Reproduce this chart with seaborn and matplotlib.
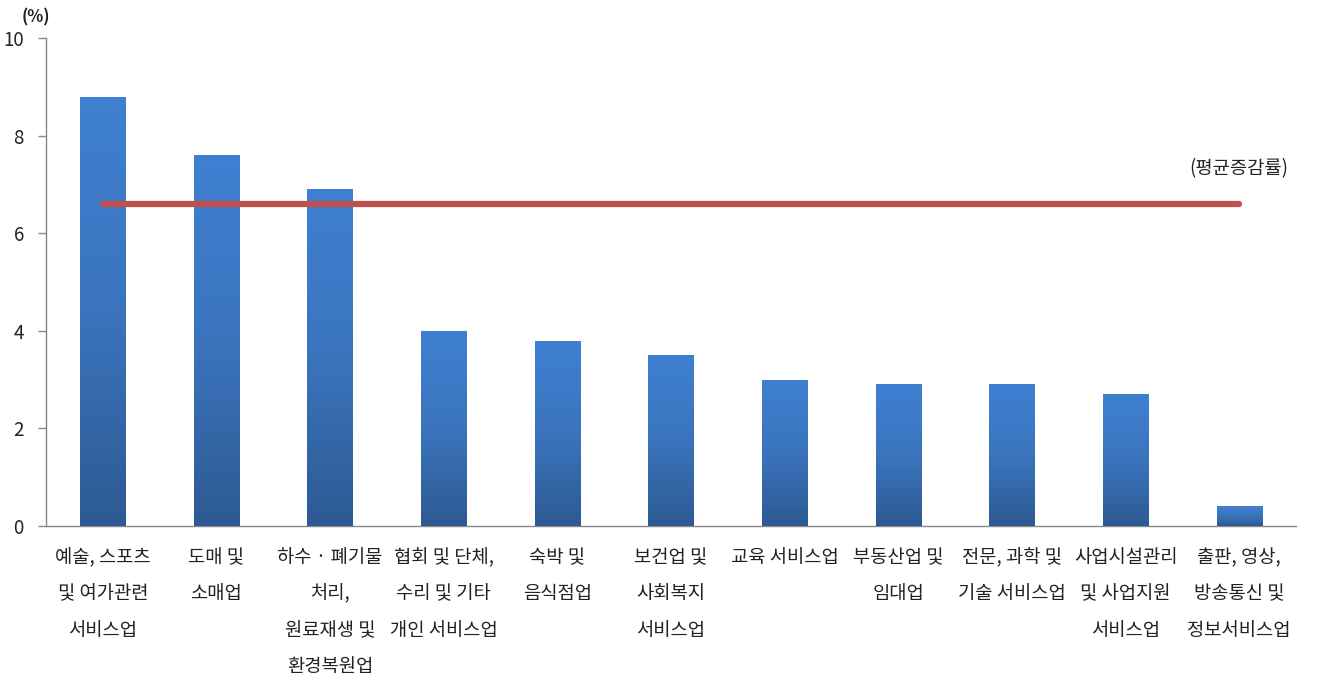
import matplotlib
matplotlib.use("Agg")
import matplotlib.pyplot as plt
import seaborn as sns
import numpy as np
import pandas as pd
from matplotlib.colors import LinearSegmentedColormap

categories = [
    "예술, 스포츠\n및 여가관련\n서비스업",
    "도매 및\n소매업",
    "하수 · 폐기물\n처리,\n원료재생 및\n환경복원업",
    "협회 및 단체,\n수리 및 기타\n개인 서비스업",
    "숙박 및\n음식점업",
    "보건업 및\n사회복지\n서비스업",
    "교육 서비스업",
    "부동산업 및\n임대업",
    "전문, 과학 및\n기술 서비스업",
    "사업시설관리\n및 사업지원\n서비스업",
    "출판, 영상,\n방송통신 및\n정보서비스업",
]
values = [8.8, 7.6, 6.9, 4.0, 3.8, 3.5, 3.0, 2.9, 2.9, 2.7, 0.4]
average = 6.6
avg_label = "(평균증감률)"
y_ticks = [0, 2, 4, 6, 8, 10]

sns.set_theme(style="white")
plt.rcParams['font.family'] = ['Noto Sans CJK KR', 'DejaVu Sans']

df = pd.DataFrame({"cat": categories, "val": values})

fig = plt.figure(figsize=(13.19, 6.83), dpi=100)
ax = fig.add_axes([0.0349, 0.2299, 0.9477, 0.7145])

sns.barplot(data=df, x="cat", y="val", ax=ax, color="#3A72BE", width=0.4,
            saturation=1, edgecolor="none", zorder=2)

# gradient fill on each bar
cmap = LinearSegmentedColormap.from_list("g", ["#2D5A93", "#3B74BD", "#3F80D2"])
grad = np.linspace(0, 1, 256).reshape(-1, 1)
for p in ax.patches:
    x0, y0 = p.get_x(), p.get_y()
    w, h = p.get_width(), p.get_height()
    im = ax.imshow(grad, cmap=cmap, aspect="auto", origin="lower",
                   extent=[x0, x0 + w, y0, y0 + h], zorder=3)
    im.set_clip_path(p)

n = len(categories)
ax.plot([0, n - 1], [average, average], color="#C0504D", lw=4.5,
        solid_capstyle="round", zorder=4)
ax.text(n - 1, average + 0.5, avg_label, ha="center", va="bottom",
        fontsize=13.5, color="#222222")

ax.set_xlim(-0.5, n - 0.5)
ax.set_ylim(0, 10)
ax.set_yticks(y_ticks)
ax.set_yticklabels([str(t) for t in y_ticks], fontsize=13.5, color="#222222")
ax.set_xlabel("")
ax.set_ylabel("")

ax.set_xticks(np.arange(n))
ax.set_xticklabels(categories, fontsize=13.5, linespacing=1.97, va="top", color="#222222")
ax.tick_params(axis="x", length=0, pad=15)
ax.set_xticks(np.arange(-0.5, n), minor=True)
ax.tick_params(axis="x", which="minor", length=6, color="#888888", direction="out", width=1)
ax.tick_params(axis="y", length=6, color="#888888", direction="out", width=1, pad=10, left=True)

for s in ["top", "right"]:
    ax.spines[s].set_visible(False)
for s in ["left", "bottom"]:
    ax.spines[s].set_color("#888888")
    ax.spines[s].set_linewidth(1)

fig.text(0.027, 0.975, "(%)", fontsize=12, fontweight="bold", ha="center", va="center",
         color="#222222")

fig.savefig("out.png", dpi=100)
